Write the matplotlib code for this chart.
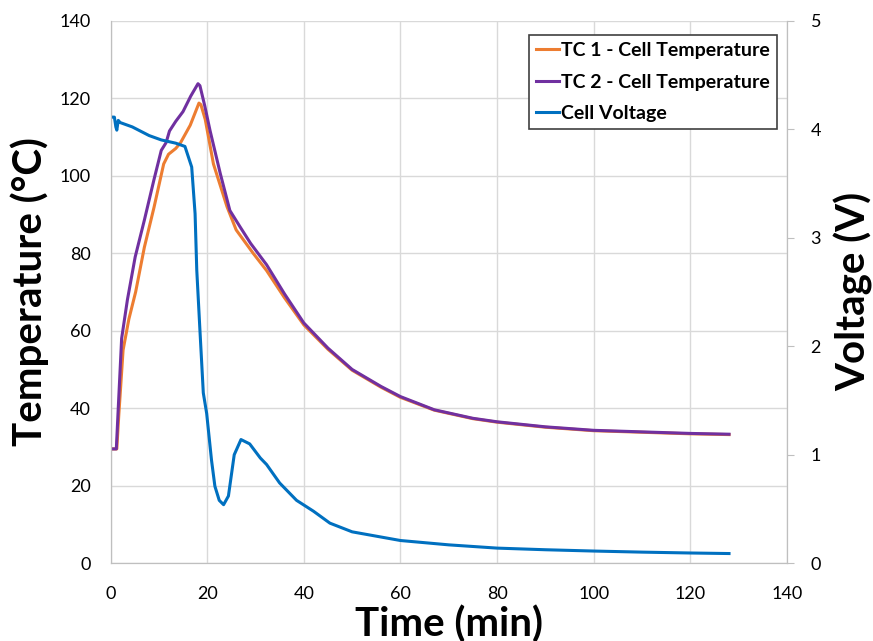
import matplotlib
matplotlib.use("Agg")
import matplotlib.pyplot as plt

plt.rcParams['font.family'] = ['Lato', 'DejaVu Sans']

# TC 2 (purple)
t_tc2 = [0, 1.2, 1.6, 2.3, 3.5, 5.1, 7, 9, 10.5, 11.5, 12.2, 13.5, 15, 16.6, 18.1,
         18.5, 19.5, 20.6, 22.7, 24.7, 26.8, 29, 32.3, 36, 40, 45, 50, 56, 60, 67,
         75, 80, 90, 100, 110, 120, 128]
T_tc2 = [29.5, 29.5, 40, 58, 68, 79, 88.5, 99, 106.5, 108.5, 111.5, 114, 116.5, 120.5, 123.7,
         123.2, 118, 111.6, 100.6, 91, 86.8, 82.5, 77, 69.5, 62, 55.5, 50, 45.6, 43, 39.6,
         37.4, 36.5, 35.2, 34.3, 33.9, 33.5, 33.3]

# TC 1 (orange)
t_tc1 = [0, 1.3, 1.7, 2.6, 3.8, 5.2, 7, 9, 11, 12, 13.5, 14.5, 16.5, 18.3,
         18.7, 19.6, 21.3, 24.1, 26, 29.5, 32.3, 36, 40, 45, 50, 56, 60, 67,
         75, 80, 90, 100, 110, 120, 128]
T_tc1 = [29.5, 29.5, 38, 55, 63, 70, 81.5, 91.8, 103, 105.5, 107, 108.5, 113, 118.7,
         118.3, 114.5, 103, 92, 86, 80, 75.5, 68.5, 61.5, 55.2, 49.8, 45.4, 42.8, 39.5,
         37.3, 36.4, 35.1, 34.2, 33.8, 33.4, 33.2]

# cell voltage (blue)
t_v = [0, 0.8, 1.1, 1.3, 1.6, 2, 4.5, 8, 10.5, 13.5, 15.4, 16.8, 17.5, 17.85, 18.5,
       19.2, 19.9, 20.9, 21.6, 22.5, 23.4, 24.4, 25.6, 27, 28.8, 31, 32.3, 35, 38.5,
       42, 45.4, 50, 55, 60, 70, 80, 90, 100, 110, 120, 128]
V_cell = [4.11, 4.11, 4.02, 3.99, 4.08, 4.06, 4.02, 3.94, 3.90, 3.87, 3.84, 3.65, 3.22, 2.7, 2.15,
          1.57, 1.38, 0.95, 0.71, 0.58, 0.54, 0.62, 1.0, 1.14, 1.10, 0.97, 0.91, 0.74, 0.58,
          0.48, 0.37, 0.29, 0.25, 0.21, 0.17, 0.14, 0.125, 0.113, 0.103, 0.095, 0.09]

fig = plt.figure(figsize=(8.73, 6.41), dpi=100)
ax = fig.add_axes([0.1266, 0.1212, 0.7749, 0.8468])
ax2 = ax.twinx()

grid_c = '#D9D9D9'
l1, = ax.plot(t_tc1, T_tc1, color='#ED7D31', lw=2.2, label='TC 1 - Cell Temperature')
l2, = ax.plot(t_tc2, T_tc2, color='#7030A0', lw=2.2, label='TC 2 - Cell Temperature')
l3, = ax2.plot(t_v, V_cell, color='#0070C0', lw=2.2, label='Cell Voltage')

ax.set_xlim(0, 140)
ax.set_ylim(0, 140)
ax2.set_ylim(0, 5)
ax.set_xticks(range(0, 141, 20))
ax.set_yticks(range(0, 141, 20))
ax2.set_yticks(range(0, 6))
ax.grid(True, color=grid_c, lw=1)
ax.set_axisbelow(True)

for a in (ax, ax2):
    for s in a.spines.values():
        s.set_color('#BFBFBF')
    a.spines['top'].set_visible(False)
ax.tick_params(axis='both', length=0, labelsize=13, pad=14, colors='black')
ax.tick_params(axis='x', pad=16)
ax2.tick_params(axis='y', length=5, color='#BFBFBF', labelsize=13, pad=12)

ax.set_xlabel('Time (min)', fontsize=29, fontweight='bold', labelpad=3)
ax.set_ylabel('Temperature (°C)', fontsize=29, fontweight='bold', labelpad=8)
ax2.set_ylabel('Voltage (V)', fontsize=29, fontweight='bold', labelpad=9)

leg = ax.legend(handles=[l1, l2, l3], loc='upper right', bbox_to_anchor=(0.985, 0.973),
                fancybox=False, framealpha=1, edgecolor='#404040',
                prop={'weight': 'bold', 'size': 14}, handlelength=1.2,
                handletextpad=0.1, borderpad=0.35, labelspacing=0.75, borderaxespad=0)
leg.get_frame().set_linewidth(1.2)

fig.savefig('out.png', dpi=100)
